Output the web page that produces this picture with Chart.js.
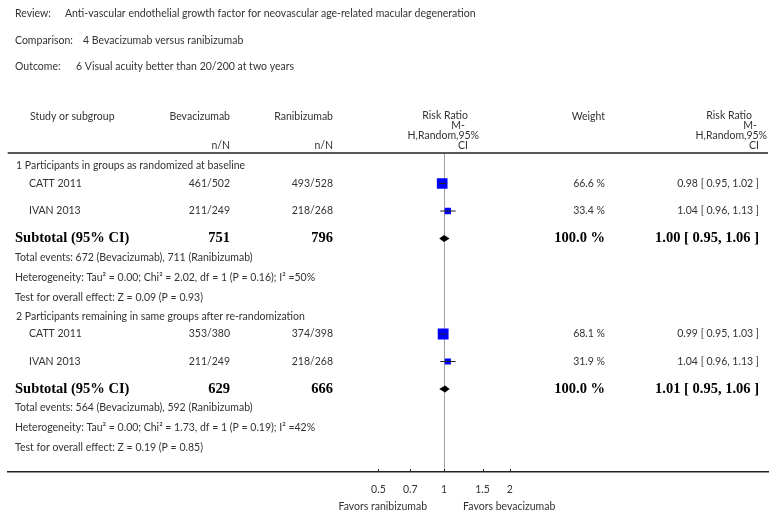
<!DOCTYPE html>
<html>
<head>
<meta charset="utf-8">
<script src="https://cdn.jsdelivr.net/npm/chart.js@4.4.1/dist/chart.umd.min.js"></script>
<style>
  html, body { margin: 0; padding: 0; background: #fff; }
  #wrap { width: 783px; height: 518px; position: relative; }
</style>
</head>
<body>
<div id="wrap"><canvas id="forest"></canvas></div>
<script>
// forest plot: bevacizumab vs ranibizumab, VA better than 20/200 at two years

const reviewText = 'Anti-vascular endothelial growth factor for neovascular age-related macular degeneration';
const comparisonText = '4 Bevacizumab versus ranibizumab';
const outcomeText = '6 Visual acuity better than 20/200 at two years';

const groupTitles = ['1 Participants in groups as randomized at baseline', '2 Participants remaining in same groups after re-randomization'];
const studyNames = ['CATT 2011', 'IVAN 2013', 'CATT 2011', 'IVAN 2013'];
const studyGroup = [0, 0, 1, 1];
const bevEvents = [461, 211, 353, 211];
const bevTotal = [502, 249, 380, 249];
const raniEvents = [493, 218, 374, 218];
const raniTotal = [528, 268, 398, 268];
const studyRR = [0.98, 1.04, 0.99, 1.04];
const studyLo = [0.95, 0.96, 0.95, 0.96];
const studyHi = [1.02, 1.13, 1.03, 1.13];
const studyWeight = [66.6, 33.4, 68.1, 31.9];

const subBevTotal = [751, 629];
const subRaniTotal = [796, 666];
const subRR = [1.00, 1.01];
const subLo = [0.95, 0.95];
const subHi = [1.06, 1.06];
const subWeight = [100.0, 100.0];
const totBevEvents = [672, 564];
const totRaniEvents = [711, 592];
const tau2 = [0.00, 0.00];
const chi2 = [2.02, 1.73];
const hetDf = [1, 1];
const hetP = [0.16, 0.19];
const i2 = [50, 42];
const zVal = [0.09, 0.19];
const zP = [0.93, 0.85];

const tickVals = [0.5, 0.7, 1, 1.5, 2];
const tickLabels = ['0.5', '0.7', '1', '1.5', '2'];

// ---- row layout (px below the header rule) ----
const GAP = { titleFirst: 13, title: 19, studyFirst: 17.5, study: 27.5, subtotal: 27.5, events: 19, het: 20, test: 20 };
const rows = [];
let yPos = 0;
groupTitles.forEach((t, g) => {
  yPos += g === 0 ? GAP.titleFirst : GAP.title;
  rows.push({ kind: 'title', g, y: yPos });
  let first = true;
  studyNames.forEach((s, i) => {
    if (studyGroup[i] !== g) return;
    yPos += first ? GAP.studyFirst : GAP.study;
    first = false;
    rows.push({ kind: 'study', i, y: yPos });
  });
  yPos += GAP.subtotal; rows.push({ kind: 'subtotal', g, y: yPos });
  yPos += GAP.events; rows.push({ kind: 'events', g, y: yPos });
  yPos += GAP.het; rows.push({ kind: 'het', g, y: yPos });
  yPos += GAP.test; rows.push({ kind: 'test', g, y: yPos });
});
const studyY = studyNames.map((s, i) => rows.find(r => r.kind === 'study' && r.i === i).y);
const subY = groupTitles.map((t, g) => rows.find(r => r.kind === 'subtotal' && r.g === g).y);

const SANS = 'Lato, "Open Sans", sans-serif';
const SERIF = '"Liberation Serif", "DejaVu Serif", serif';
const TXT = '#333';
const FS = 10.5;
const COL = { name: 30, groupX: 16, bev: 230, rani: 333, weight: 605, rr: 759 };

const f2 = v => v.toFixed(2);
const rrText = (r, l, h) => `${f2(r)} [ ${f2(l)}, ${f2(h)} ]`;

const forestPlugin = {
  id: 'forestText',
  beforeDatasetsDraw(chart) {
    const { ctx, scales: { x }, chartArea: a } = chart;
    const px = Math.round(x.getPixelForValue(1)) + 0.5;
    ctx.save();
    ctx.strokeStyle = '#a0a0a0';
    ctx.lineWidth = 1;
    ctx.beginPath(); ctx.moveTo(px, a.top); ctx.lineTo(px, a.bottom); ctx.stroke();
    ctx.restore();
  },
  afterDatasetsDraw(chart) {
    const { ctx, scales: { x, y } } = chart;
    ctx.save();
    ctx.fillStyle = '#000';
    subRR.forEach((r, g) => {
      const cy = y.getPixelForValue(subY[g]);
      ctx.beginPath();
      ctx.moveTo(x.getPixelForValue(subLo[g]), cy);
      ctx.lineTo(x.getPixelForValue(r), cy - 3.5);
      ctx.lineTo(x.getPixelForValue(subHi[g]), cy);
      ctx.lineTo(x.getPixelForValue(r), cy + 3.5);
      ctx.closePath();
      ctx.fill();
    });
    ctx.restore();
  },
  afterDraw(chart) {
    const { ctx, scales: { x, y }, chartArea: a } = chart;
    ctx.save();
    ctx.textBaseline = 'middle';
    const txt = (s, tx, ty, align = 'left', font = `${FS}px ${SANS}`, color = TXT) => {
      ctx.font = font; ctx.fillStyle = color; ctx.textAlign = align; ctx.fillText(s, tx, ty);
    };

    // top info lines
    txt('Review:', 15, 14); txt(reviewText, 65, 14);
    txt('Comparison:', 15, 41); txt(comparisonText, 83, 41);
    txt('Outcome:', 15, 67); txt(outcomeText, 76, 67);

    // column headers
    txt('Study or subgroup', COL.name, 117);
    txt('Bevacizumab', COL.bev, 117, 'right');
    txt('Ranibizumab', COL.rani, 117, 'right');
    txt('n/N', COL.bev, 146, 'right');
    txt('n/N', COL.rani, 146, 'right');
    txt('Risk Ratio', 468, 116, 'right');
    txt('M-', 465, 126, 'right');
    txt('H,Random,95%', 479, 136, 'right');
    txt('CI', 468, 146, 'right');
    txt('Weight', COL.weight, 117, 'right');
    txt('Risk Ratio', 752, 116, 'right');
    txt('M-', 757, 126, 'right');
    txt('H,Random,95%', 767, 136, 'right');
    txt('CI', COL.rr, 146, 'right');

    // header rule
    ctx.strokeStyle = '#222'; ctx.lineWidth = 1.5;
    ctx.beginPath(); ctx.moveTo(a.left, a.top); ctx.lineTo(a.right, a.top); ctx.stroke();

    const bold = `bold 14.5px ${SERIF}`;
    rows.forEach(r => {
      const ty = y.getPixelForValue(r.y);
      if (r.kind === 'title') txt(groupTitles[r.g], COL.groupX, ty);
      if (r.kind === 'study') {
        const i = r.i;
        txt(studyNames[i], COL.name - 1, ty);
        txt(`${bevEvents[i]}/${bevTotal[i]}`, COL.bev, ty, 'right');
        txt(`${raniEvents[i]}/${raniTotal[i]}`, COL.rani, ty, 'right');
        txt(`${studyWeight[i].toFixed(1)} %`, COL.weight, ty, 'right');
        txt(rrText(studyRR[i], studyLo[i], studyHi[i]), COL.rr, ty, 'right');
      }
      if (r.kind === 'subtotal') {
        const g = r.g;
        txt('Subtotal (95% CI)', 15, ty, 'left', bold, '#000');
        txt(String(subBevTotal[g]), COL.bev, ty, 'right', bold, '#000');
        txt(String(subRaniTotal[g]), COL.rani, ty, 'right', bold, '#000');
        txt(`${subWeight[g].toFixed(1)} %`, COL.weight, ty, 'right', bold, '#000');
        txt(rrText(subRR[g], subLo[g], subHi[g]), COL.rr, ty, 'right', bold, '#000');
      }
      if (r.kind === 'events') txt(`Total events: ${totBevEvents[r.g]} (Bevacizumab), ${totRaniEvents[r.g]} (Ranibizumab)`, 15, ty);
      if (r.kind === 'het') {
        const g = r.g;
        txt(`Heterogeneity: Tau² = ${f2(tau2[g])}; Chi² = ${f2(chi2[g])}, df = ${hetDf[g]} (P = ${f2(hetP[g])}); I² =${i2[g]}%`, 15, ty);
      }
      if (r.kind === 'test') txt(`Test for overall effect: Z = ${f2(zVal[r.g])} (P = ${f2(zP[r.g])})`, 15, ty);
    });

    // tick marks pointing up from the axis
    ctx.strokeStyle = '#222'; ctx.lineWidth = 1;
    x.ticks.forEach(t => {
      const tx = Math.round(x.getPixelForValue(t.value)) + 0.5;
      ctx.beginPath(); ctx.moveTo(tx, a.bottom); ctx.lineTo(tx, a.bottom - 3); ctx.stroke();
    });

    const one = x.getPixelForValue(1);
    txt('Favors ranibizumab', one - 17, a.bottom + 35, 'right');
    txt('Favors bevacizumab', one + 19, a.bottom + 35, 'left');
    ctx.restore();
  }
};

const whiskerSets = studyNames.map((s, i) => ({
  data: [{ x: studyLo[i], y: studyY[i] }, { x: studyHi[i], y: studyY[i] }],
  showLine: true,
  borderColor: '#222',
  borderWidth: 1,
  pointRadius: 0,
  order: 0
}));

const squareSet = {
  data: studyNames.map((s, i) => ({ x: studyRR[i], y: studyY[i] })),
  pointStyle: 'rect',
  pointRadius: studyWeight.map(w => (2 + 0.13 * w) / Math.SQRT2),
  backgroundColor: '#0000ff',
  borderWidth: 0,
  order: 1
};

new Chart(document.getElementById('forest'), {
  type: 'scatter',
  data: { datasets: [...whiskerSets, squareSet] },
  options: {
    responsive: true,
    maintainAspectRatio: false,
    animation: false,
    events: [],
    layout: { padding: { left: 7, right: 15, top: 153, bottom: 0 } },
    plugins: { legend: { display: false }, tooltip: { enabled: false } },
    scales: {
      x: {
        type: 'logarithmic',
        min: 0.01,
        max: 30.5,
        afterBuildTicks: s => { s.ticks = tickVals.map(v => ({ value: v })); },
        afterFit: s => { s.height = 46; },
        grid: { display: false, drawTicks: false },
        border: { display: true, color: '#222', width: 1.5 },
        ticks: {
          autoSkip: false,
          maxRotation: 0,
          padding: 11,
          color: TXT,
          font: { family: SANS, size: FS },
          callback: (v, idx) => tickLabels[idx]
        }
      },
      y: { type: 'linear', min: 0, max: 319, reverse: true, display: false }
    }
  },
  plugins: [forestPlugin]
});
</script>
</body>
</html>
